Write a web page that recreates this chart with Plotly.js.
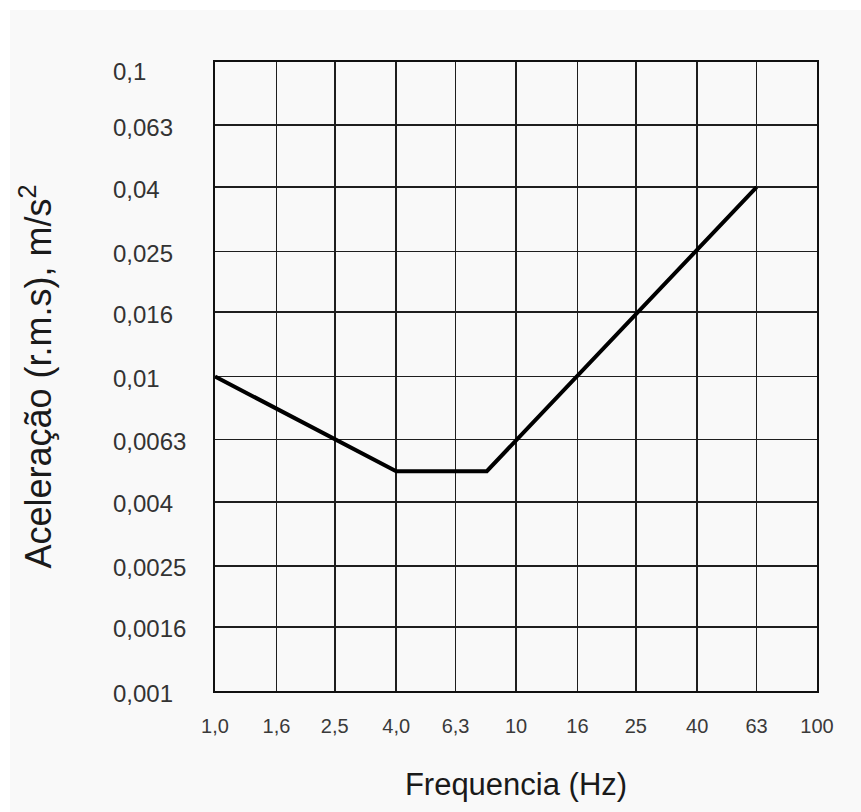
<!DOCTYPE html>
<html>
<head>
<meta charset="utf-8">
<script src="https://cdn.plot.ly/plotly-3.0.1.min.js"></script>
<style>
  html, body { margin: 0; padding: 0; background: #ffffff; }
  #chart { position: absolute; left: 10px; top: 10px; width: 851px; height: 802px; }
</style>
</head>
<body>
<div id="chart"></div>
<script>
// Curve data (frequency in Hz, acceleration r.m.s. in m/s²)
const frequency = [1, 4, 8, 63];
const acceleration = [0.01, 0.005, 0.005, 0.04];

// Axis ticks
const xTickVals = [1, 1.6, 2.5, 4, 6.3, 10, 16, 25, 40, 63, 100];
const xTickText = ['1,0', '1,6', '2,5', '4,0', '6,3', '10', '16', '25', '40', '63', '100'];
const yTickVals = [0.001, 0.0016, 0.0025, 0.004, 0.0063, 0.01, 0.016, 0.025, 0.04, 0.063, 0.1];
const yTickText = ['0,001', '0,0016', '0,0025', '0,004', '0,0063', '0,01', '0,016', '0,025', '0,04', '0,063', '0,1'];

const FONT = 'Liberation Sans, Arial, Helvetica, sans-serif';
const yMax = Math.max(...yTickVals);

// Left-aligned y tick labels, positioned on the y axis scale
const yLabelAnnotations = yTickVals.map((v, i) => ({
  xref: 'paper', x: 0, xanchor: 'left', xshift: -104,
  yref: 'y', y: Math.log10(v), yanchor: 'middle',
  yshift: v === yMax ? -9 : -2,
  text: yTickText[i], showarrow: false,
  font: { family: FONT, size: 24, color: '#333333' }
}));

const trace = {
  x: frequency,
  y: acceleration,
  type: 'scatter',
  mode: 'lines',
  line: { color: '#000000', width: 4 },
  hoverinfo: 'x+y'
};

const layout = {
  width: 851, height: 802,
  margin: { l: 205, r: 44, t: 52, b: 121 },
  paper_bgcolor: '#f9f9f9',
  plot_bgcolor: '#f9f9f9',
  showlegend: false,
  font: { family: FONT, color: '#222222' },
  xaxis: {
    type: 'log', range: [0, 2],
    tickmode: 'array', tickvals: xTickVals, ticktext: xTickText,
    showgrid: true, gridcolor: '#1e1e1e', gridwidth: 1.7,
    showline: true, linecolor: '#111111', linewidth: 2.2, mirror: true,
    zeroline: false, ticks: '',
    ticklabelstandoff: 16,
    tickfont: { family: FONT, size: 20, color: '#3a3a3a' },
    title: { text: 'Frequencia (Hz)', font: { family: FONT, size: 31, color: '#1a1a1a' }, standoff: 37 },
    automargin: false
  },
  yaxis: {
    type: 'log', range: [-3, -1],
    tickmode: 'array', tickvals: yTickVals, ticktext: yTickText,
    showticklabels: false,
    showgrid: true, gridcolor: '#1e1e1e', gridwidth: 1.7,
    showline: true, linecolor: '#111111', linewidth: 2.2, mirror: true,
    zeroline: false, ticks: '',
    title: { text: 'Aceleração (r.m.s), m/s<sup>2</sup>', font: { family: FONT, size: 36, color: '#1a1a1a' }, standoff: 150 },
    automargin: false
  },
  annotations: yLabelAnnotations
};

Plotly.newPlot('chart', [trace], layout, { displayModeBar: false, staticPlot: true });
</script>
</body>
</html>
